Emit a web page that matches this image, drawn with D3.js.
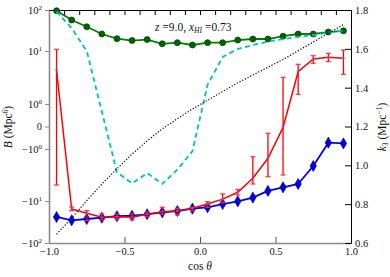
<!DOCTYPE html>
<html>
<head>
<meta charset="utf-8">
<script src="https://cdn.jsdelivr.net/npm/d3@7"></script>
<style>
body { margin:0; background:#fff; }
svg text { font-family:"Liberation Serif","DejaVu Serif",serif; fill:#111; }
</style>
</head>
<body>
<svg id="chart" width="390" height="277"></svg>
<script>
// cos(theta) bins
var cosTheta = [-0.95,-0.85,-0.75,-0.65,-0.55,-0.45,-0.35,-0.25,-0.15,-0.05,
                 0.05, 0.15, 0.25, 0.35, 0.45, 0.55, 0.65, 0.75, 0.85, 0.95];

// B (Mpc^6)
var bGreen = [96,57,39,26,20,18,19,15,16,14, 16,16,18.5,19.6,19.6,23,26,26,29,31];
var bCyan  = [91,36,10,0.67,-2.8,-4.6,-2.9,-4.7,-2.5,-1.1, 2.3,7.7,11.2,14,17,19.6,22,24.5,28,31.6];
var bBlue  = [-24,-28.8,-26.8,-25,-23.1,-22.4,-20.7,-18.6,-17.3,-15.2,
              -14.1,-11.8,-10.2,-8.6,-6.4,-5.45,-4.71,-2.12,-0.72,-0.75];
var bRed   = [4.38,-15.5,-19.6,-24.4,-23.7,-24.4,-20.7,-18,-17.3,-14.9,
              -11.8,-9.2,-6.8,-3.66,-1.51,-0.04,4.07,7.06,7.6,7.28];
var bRedLo = [-4.93,-17,-29.4,-28.3,-26.8,-28.3,-23.7,-20.7,-21.5,-17,
              -14.1,-11,-7.7,-4.71,-3.41,-3.16,1.52,5.86,6.28,3.63];
var bRedHi = [11,-13.9,-17,-20.4,-20.7,-20.4,-18.3,-14.1,-14.9,-14.1,
              -10.4,-7.3,-6,-1.41,-0.3,3.19,5.61,8.15,9.05,10.6];

// k3 (Mpc^-1), right axis
var k3 = [0.645,0.728,0.818,0.904,0.982,1.058,1.126,1.188,1.24,1.29,
          1.335,1.38,1.425,1.465,1.505,1.545,1.59,1.635,1.68,1.725];

var xTicks = [-1,-0.5,0,0.5,1];
var xMinor = [-0.9,-0.8,-0.7,-0.6,-0.4,-0.3,-0.2,-0.1,0.1,0.2,0.3,0.4,0.6,0.7,0.8,0.9];
var bTicks = [-100,-10,-1,0,1,10,100];
var bTickBase = ["\u221210","\u221210","\u221210","0","10","10","10"];
var bTickExp  = ["2","1","0","","0","1","2"];
var kTicks = [0.6,0.8,1.0,1.2,1.4,1.6,1.8];
var kMinor = [0.65,0.7,0.75,0.85,0.9,0.95,1.05,1.1,1.15,1.25,1.3,1.35,1.45,1.5,1.55,1.65,1.7,1.75];

var padL = 49, padR = 351, padT = 10, padB = 243;
var serif = "'Liberation Serif','DejaVu Serif',serif";
var svg = d3.select("#chart").attr("font-family", serif);

var x = d3.scaleLinear().domain([-1,1]).range([padL,padR]);

// symmetric log: linear inside |v|<=1, log decades outside
function sym(v) {
  var a = Math.abs(v);
  var t = a <= 1 ? a : 1 + Math.log10(a);
  return v < 0 ? -t : t;
}
var yT = d3.scaleLinear().domain([-3,-2,-1,0,1,2,3]).range([243,201,149,126.5,104,51,10]);
var yB = function(v) { return yT(sym(v)); };
var yK = d3.scaleLinear().domain([0.6,1.8]).range([padB,padT]);

// axes
var gBot = svg.append("g").attr("transform","translate(0,"+padB+")");
gBot.call(d3.axisBottom(x).tickValues(xMinor).tickSize(-4).tickSizeOuter(0).tickFormat(""));
gBot.call(d3.axisBottom(x).tickValues(xTicks).tickSize(-6).tickSizeOuter(0).tickPadding(5)
  .tickFormat(function(d){ return d3.format(".1f")(d).replace("-","\u2212"); }));

var gTop = svg.append("g").attr("transform","translate(0,"+padT+")");
gTop.call(d3.axisTop(x).tickValues(xMinor.concat(xTicks)).tickSize(-5).tickSizeOuter(0).tickFormat(""));

var gR = svg.append("g").attr("transform","translate("+padR+",0)");
gR.call(d3.axisRight(yK).tickValues(kMinor).tickSize(-3).tickSizeOuter(0).tickFormat(""));
gR.call(d3.axisRight(yK).tickValues(kTicks).tickSize(-6).tickSizeOuter(0).tickPadding(4)
  .tickFormat(d3.format(".1f")));

var gL = svg.append("g").attr("transform","translate("+padL+",0)");
gL.call(d3.axisLeft(yT).tickValues(bTicks.map(sym)).tickSize(4).tickSizeOuter(0).tickPadding(3).tickFormat(""));
gL.selectAll(".tick text").each(function(d,i) {
  var t = d3.select(this);
  t.append("tspan").text(bTickBase[i]);
  if (bTickExp[i]) t.append("tspan").attr("dy",-4).attr("font-size","7px").text(bTickExp[i]);
});

svg.selectAll("g").attr("font-family", serif).attr("font-size", 10.5);
svg.selectAll(".domain").attr("stroke","#000").attr("stroke-width",1);
gL.selectAll(".domain, line").attr("stroke","#8a8a8a");
gL.select(".domain").attr("stroke-width",1.6);
gBot.selectAll(".domain").attr("stroke","#8a8a8a").attr("stroke-width",1.6);
gBot.selectAll("line").attr("stroke","#555");

var line = d3.line().x(function(d,i){ return x(cosTheta[i]); });

// green
svg.append("path").datum(bGreen)
  .attr("d", line.y(function(d){ return yB(d); }))
  .attr("fill","none").attr("stroke","#008000").attr("stroke-width",1.8);
svg.selectAll(".gdot").data(bGreen).enter().append("circle")
  .attr("cx",function(d,i){ return x(cosTheta[i]); })
  .attr("cy",function(d){ return yB(d); })
  .attr("r",3).attr("fill","#006400").attr("stroke","#003a00").attr("stroke-width",0.7);

// cyan dashed
svg.append("path").datum(bCyan)
  .attr("d", line.y(function(d){ return yB(d); }))
  .attr("fill","none").attr("stroke","#00bfbf").attr("stroke-width",1.8)
  .attr("stroke-dasharray","5,3.5");

// k3 dotted
svg.append("path").datum(k3)
  .attr("d", line.y(function(d){ return yK(d); }))
  .attr("fill","none").attr("stroke","#000").attr("stroke-width",1.2)
  .attr("stroke-dasharray","1.2,1.8");

// blue
svg.append("path").datum(bBlue)
  .attr("d", line.y(function(d){ return yB(d); }))
  .attr("fill","none").attr("stroke","#0000ff").attr("stroke-width",1.8);
svg.selectAll(".bdot").data(bBlue).enter().append("path")
  .attr("transform",function(d,i){ return "translate("+x(cosTheta[i])+","+yB(d)+")"; })
  .attr("d", d3.symbol().type(d3.symbolDiamond).size(36))
  .attr("fill","#0000e0").attr("stroke","#000080").attr("stroke-width",0.6);

// red with error bars
svg.append("path").datum(bRed)
  .attr("d", line.y(function(d){ return yB(d); }))
  .attr("fill","none").attr("stroke","#ff0000").attr("stroke-width",1.5);
var eb = svg.selectAll(".err").data(bRed).enter().append("g")
  .attr("transform",function(d,i){ return "translate("+x(cosTheta[i])+",0)"; });
eb.append("line").attr("y1",function(d,i){ return yB(bRedLo[i]); })
  .attr("y2",function(d,i){ return yB(bRedHi[i]); })
  .attr("stroke","#ff0000").attr("stroke-width",1.3);
eb.append("line").attr("x1",-2.5).attr("x2",2.5)
  .attr("y1",function(d,i){ return yB(bRedLo[i]); }).attr("y2",function(d,i){ return yB(bRedLo[i]); })
  .attr("stroke","#ff3030").attr("stroke-width",1.2);
eb.append("line").attr("x1",-2.5).attr("x2",2.5)
  .attr("y1",function(d,i){ return yB(bRedHi[i]); }).attr("y2",function(d,i){ return yB(bRedHi[i]); })
  .attr("stroke","#ff3030").attr("stroke-width",1.2);
eb.append("line").attr("x1",-1.5).attr("x2",1.5)
  .attr("y1",function(d){ return yB(d); }).attr("y2",function(d){ return yB(d); })
  .attr("stroke","#7070ff").attr("stroke-width",1);

// annotation
var ann = svg.append("text").attr("x",155).attr("y",31).attr("font-size","11.5px");
ann.append("tspan").attr("font-style","italic").text("z");
ann.append("tspan").text(" =9.0, ");
ann.append("tspan").attr("font-style","italic").text("x");
ann.append("tspan").attr("font-style","italic").attr("font-size","7.5px").attr("dy",2).text("HI");
ann.append("tspan").attr("dy",-2).text(" =0.73");

// axis labels
svg.append("text").attr("x",200).attr("y",270).attr("text-anchor","middle").attr("font-size","11.5px")
  .text("cos ").append("tspan").attr("font-style","italic").text("\u03b8");

var lb = svg.append("text").attr("transform","translate(12,127) rotate(-90)")
  .attr("text-anchor","middle").attr("font-size","11.5px");
lb.append("tspan").attr("font-style","italic").text("B");
lb.append("tspan").text(" (Mpc");
lb.append("tspan").attr("dy",-4).attr("font-size","7.5px").text("6");
lb.append("tspan").attr("dy",4).text(")");

var rb = svg.append("text").attr("transform","translate(386,127) rotate(-90)")
  .attr("text-anchor","middle").attr("font-size","11.5px");
rb.append("tspan").attr("font-style","italic").text("k");
rb.append("tspan").attr("dy",2).attr("font-size","7.5px").text("3");
rb.append("tspan").attr("dy",-2).text(" (Mpc");
rb.append("tspan").attr("dy",-4).attr("font-size","7.5px").text("\u22121");
rb.append("tspan").attr("dy",4).text(")");
</script>
</body>
</html>
